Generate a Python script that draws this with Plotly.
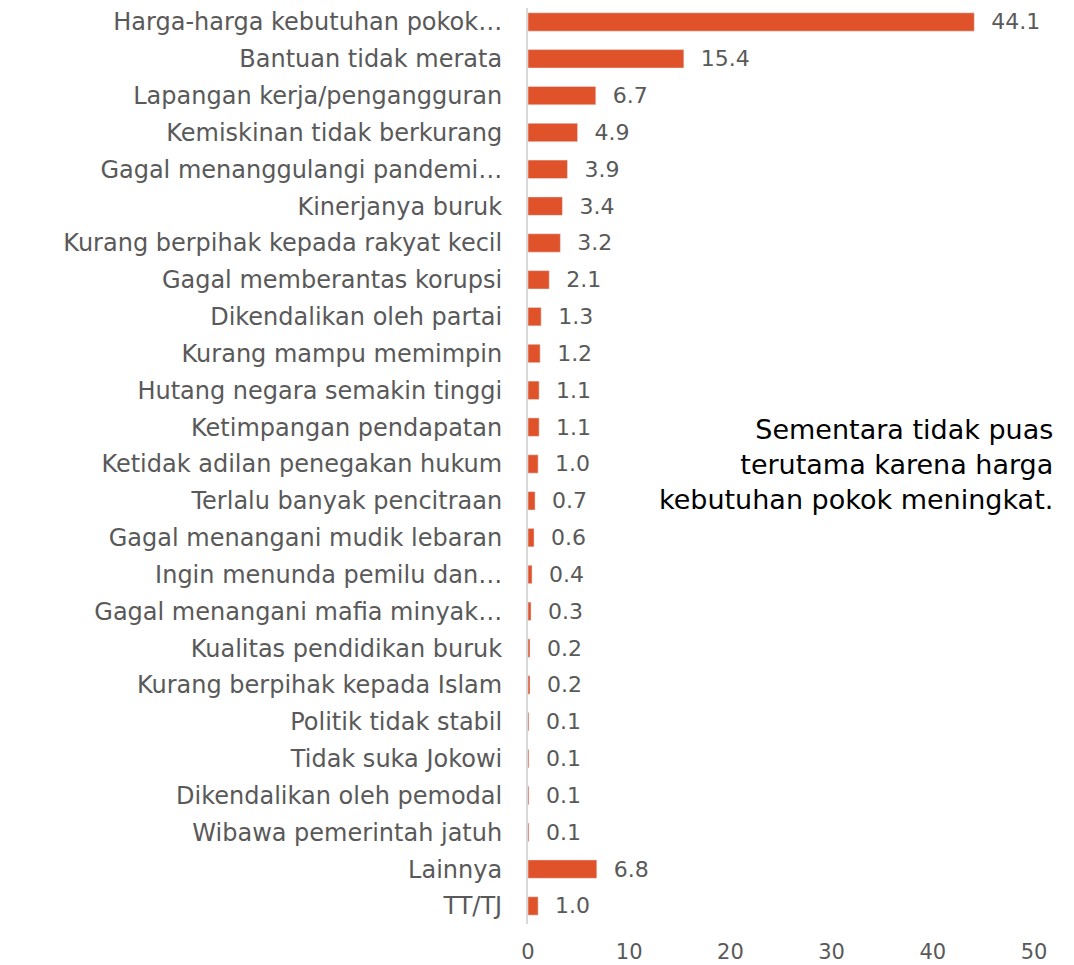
import plotly.graph_objects as go

categories = [
    "Harga-harga kebutuhan pokok…",
    "Bantuan tidak merata",
    "Lapangan kerja/pengangguran",
    "Kemiskinan tidak berkurang",
    "Gagal menanggulangi pandemi…",
    "Kinerjanya buruk",
    "Kurang berpihak kepada rakyat kecil",
    "Gagal memberantas korupsi",
    "Dikendalikan oleh partai",
    "Kurang mampu memimpin",
    "Hutang negara semakin tinggi",
    "Ketimpangan pendapatan",
    "Ketidak adilan penegakan hukum",
    "Terlalu banyak pencitraan",
    "Gagal menangani mudik lebaran",
    "Ingin menunda pemilu dan…",
    "Gagal menangani mafia minyak…",
    "Kualitas pendidikan buruk",
    "Kurang berpihak kepada Islam",
    "Politik tidak stabil",
    "Tidak suka Jokowi",
    "Dikendalikan oleh pemodal",
    "Wibawa pemerintah jatuh",
    "Lainnya",
    "TT/TJ",
]
values = [44.1, 15.4, 6.7, 4.9, 3.9, 3.4, 3.2, 2.1, 1.3, 1.2, 1.1, 1.1, 1.0,
          0.7, 0.6, 0.4, 0.3, 0.2, 0.2, 0.1, 0.1, 0.1, 0.1, 6.8, 1.0]
x_ticks = [0, 10, 20, 30, 40, 50]
note = "Sementara tidak puas<br>terutama karena harga<br>kebutuhan pokok meningkat."

FONT = "DejaVu Sans"
GRAY = "#595959"

fig = go.Figure(go.Bar(
    y=categories, x=values, orientation="h",
    marker=dict(color="#E0532A"),
    width=0.5,
    text=values, texttemplate="  %{x:.1f}", textposition="outside",
    constraintext="none",
    textfont=dict(family=FONT, size=22, color=GRAY),
    cliponaxis=False,
))

fig.update_layout(
    width=1066, height=957,
    margin=dict(l=520, r=40, t=0, b=41),
    plot_bgcolor="white", paper_bgcolor="white",
    showlegend=False,
    font=dict(family=FONT, color=GRAY),
    xaxis=dict(range=[0, 50], tickvals=x_ticks, showgrid=False, zeroline=False,
               showline=False, tickfont=dict(size=21, color=GRAY),
               ticks="outside", ticklen=9, tickcolor="rgba(0,0,0,0)",
               automargin=False),
    yaxis=dict(range=[24.49, -0.38], showgrid=False, zeroline=False,
               showline=True, linecolor="#D9D9D9", linewidth=2,
               tickfont=dict(size=24, color=GRAY), ticks="outside",
               ticklen=0, ticklabelstandoff=19, automargin=False),
    annotations=[dict(text=note, xref="paper", yref="paper", x=1.0415, y=0.502,
                      xanchor="right", yanchor="middle", align="right", showarrow=False,
                      font=dict(family=FONT, size=27, color="#000000"))],
)

fig.write_html("out.html")
